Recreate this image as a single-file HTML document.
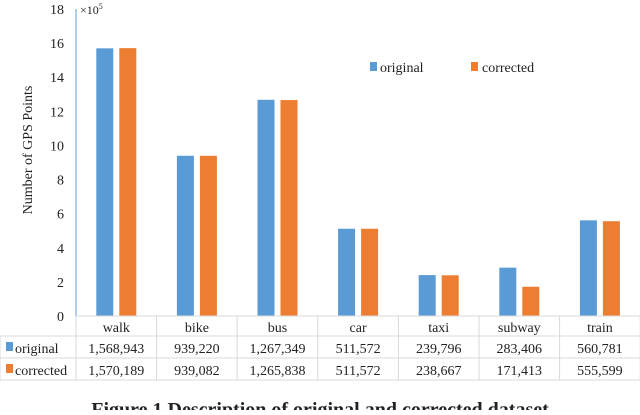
<!DOCTYPE html>
<html><head><meta charset="utf-8"><style>
body{margin:0;background:#fff;}
svg text{font-family:"Liberation Serif",serif;fill:#222;}
</style></head><body>
<svg width="640" height="410" viewBox="0 0 640 410">
<g id="grid"></g>
<g id="bars"></g>
<g id="axis"></g>
<g id="table"></g>
<text x="380" y="72" font-size="14">original</text>
<rect x="370" y="62" width="7" height="9" fill="#5b9bd5"/>
<rect x="471" y="62" width="7" height="9" fill="#ed7d31"/>
<text x="482" y="72" font-size="14">corrected</text>
<text x="80" y="14" font-size="12">×10<tspan font-size="8" dy="-5">5</tspan></text>
<text transform="translate(32,150) rotate(-90)" text-anchor="middle" font-size="14">Number of GPS Points</text>
<text x="320" y="416" text-anchor="middle" font-size="20" font-weight="bold">Figure 1 Description of original and corrected dataset</text>
<script>
const categories=["walk","bike","bus","car","taxi","subway","train"];
const original=[1568943,939220,1267349,511572,239796,283406,560781];
const corrected=[1570189,939082,1265838,511572,238667,171413,555599];
const yTicks=[0,2,4,6,8,10,12,14,16,18];
const originalLabels=["1,568,943","939,220","1,267,349","511,572","239,796","283,406","560,781"];
const correctedLabels=["1,570,189","939,082","1,265,838","511,572","238,667","171,413","555,599"];
const NS="http://www.w3.org/2000/svg";
const x0=76,cw=80.6,yBase=316,yPer=17.06;
const y=v=>yBase-v/1e5*yPer;
function mk(t,a,p){const e=document.createElementNS(NS,t);for(const k in a)e.setAttribute(k,a[k]);document.getElementById(p).appendChild(e);return e;}
categories.forEach((c,i)=>{
 const cx=x0+cw*i+cw/2;
 let r=mk('rect',{x:cx-20,y:y(original[i]),width:17,height:yBase-y(original[i]),fill:'#5b9bd5'},'bars');
 
 
 r=mk('rect',{x:cx+3,y:y(corrected[i]),width:17,height:yBase-y(corrected[i]),fill:'#ed7d31'},'bars');
 
 
});
yTicks.forEach(v=>{
 const t=mk('text',{x:64,y:y(v*1e5)+5,'text-anchor':'end','font-size':14},'axis');
 t.textContent=v;
 
 
});
mk('line',{x1:x0,y1:9,x2:x0,y2:yBase,stroke:'#5b9bd5','stroke-width':1},'axis');
const rows=[316,336,358,380];
rows.forEach(ry=>mk('line',{x1:ry===316?x0:0,y1:ry,x2:640,y2:ry,stroke:'#d9d9d9'},'table'));
mk('line',{x1:0,y1:336,x2:0,y2:380,stroke:'#d9d9d9'},'table');
for(let i=0;i<=7;i++)mk('line',{x1:x0+cw*i,y1:316,x2:x0+cw*i,y2:380,stroke:'#d9d9d9'},'table');
categories.forEach((c,i)=>{
 const cx=x0+cw*i+cw/2;
 let t=mk('text',{x:cx,y:332,'text-anchor':'middle','font-size':14},'table');
 t.textContent=c;
 
 
 t=mk('text',{x:cx,y:353,'text-anchor':'middle','font-size':14},'table');
 t.textContent=originalLabels[i];
 
 
 t=mk('text',{x:cx,y:375,'text-anchor':'middle','font-size':14},'table');
 t.textContent=correctedLabels[i];
 
 
});
mk('rect',{x:6,y:342,width:7,height:9,fill:'#5b9bd5'},'table');
mk('rect',{x:6,y:364,width:7,height:9,fill:'#ed7d31'},'table');
let t=mk('text',{x:15,y:353,'font-size':14},'table');t.textContent='original';


t=mk('text',{x:15,y:375,'font-size':14},'table');t.textContent='corrected';


</script>
</svg>
</body></html>
